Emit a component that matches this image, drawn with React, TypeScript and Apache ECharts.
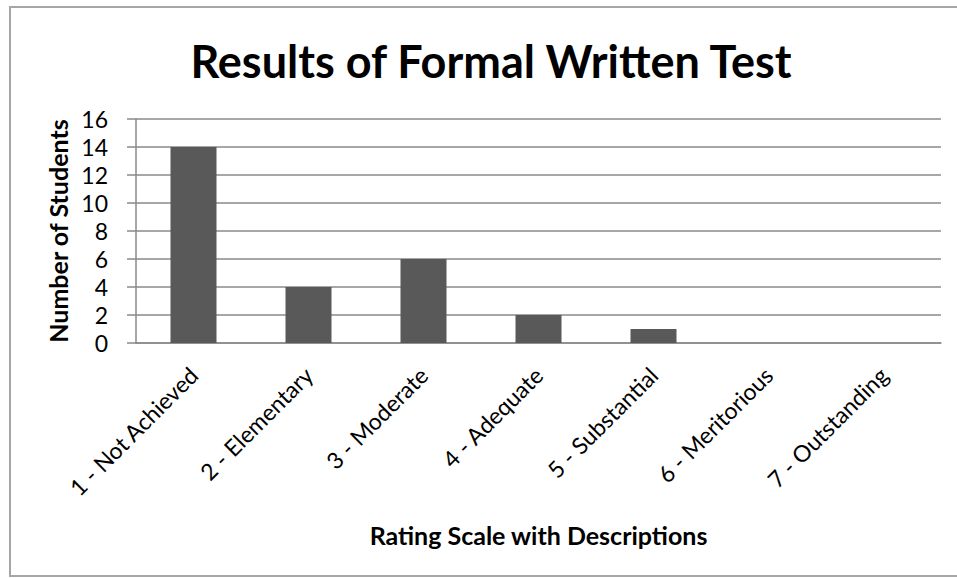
import React, { useEffect, useRef } from "react";
import * as echarts from "echarts";

const categories = [
  "1 - Not Achieved",
  "2 - Elementary",
  "3 - Moderate",
  "4 - Adequate",
  "5 - Substantial",
  "6 - Meritorious",
  "7 - Outstanding",
];
const students = [14, 4, 6, 2, 1, 0, 0];
const titleText = "Results of Formal Written Test";
const xTitle = "Rating Scale with Descriptions";
const yTitle = "Number of Students";

const FONT = "Lato, 'Open Sans', sans-serif";
const GRID = "#8a8a8a";

export default function App() {
  const ref = useRef<HTMLDivElement>(null);
  useEffect(() => {
    if (!ref.current) return;
    const chart = echarts.init(ref.current, undefined, { renderer: "svg" });
    chart.setOption({
      animation: false,
      backgroundColor: "#ffffff",
      textStyle: { fontFamily: FONT },
      title: {
        text: titleText,
        left: 486,
        top: 33,
        textAlign: "center",
        textStyle: { fontFamily: FONT, fontWeight: "bold", fontSize: 45, color: "#000" },
      },
      graphic: [
        {
          type: "rect",
          shape: { x: 10, y: 7, width: 1000, height: 569 },
          style: { fill: "none", stroke: "#a6a6a6", lineWidth: 2 },
          silent: true,
        },
      ],
      grid: { left: 136, right: 16, top: 119, bottom: 235, containLabel: false },
      xAxis: {
        type: "category",
        data: categories,
        name: xTitle,
        nameLocation: "middle",
        nameGap: 179,
        nameTextStyle: { fontFamily: FONT, fontWeight: "bold", fontSize: 25, color: "#000" },
        axisLine: { show: true, lineStyle: { color: GRID, width: 1.5 } },
        axisTick: { show: false },
        axisLabel: {
          rotate: 45,
          interval: 0,
          margin: 28,
          fontFamily: FONT,
          fontSize: 23,
          color: "#000",
        },
      },
      yAxis: {
        type: "value",
        min: 0,
        max: 16,
        interval: 2,
        name: yTitle,
        nameLocation: "middle",
        nameGap: 62,
        nameRotate: 90,
        nameTextStyle: { fontFamily: FONT, fontWeight: "bold", fontSize: 25, color: "#000", padding: [0, 0, 0, 0] },
        axisLine: { show: true, lineStyle: { color: GRID, width: 1.5 } },
        axisTick: { show: true, length: 9, lineStyle: { color: GRID, width: 1.5 } },
        axisLabel: { margin: 28, fontFamily: FONT, fontSize: 23, color: "#000" },
        splitLine: { show: true, lineStyle: { color: GRID, width: 1.5 } },
      },
      series: [
        {
          type: "bar",
          data: students,
          barWidth: "40%",
          itemStyle: { color: "#595959" },
        },
      ],
    });
    return () => chart.dispose();
  }, []);
  return (
    <div
      ref={ref}
      style={{ position: "fixed", left: 0, top: 0, width: 957, height: 578 }}
    />
  );
}
